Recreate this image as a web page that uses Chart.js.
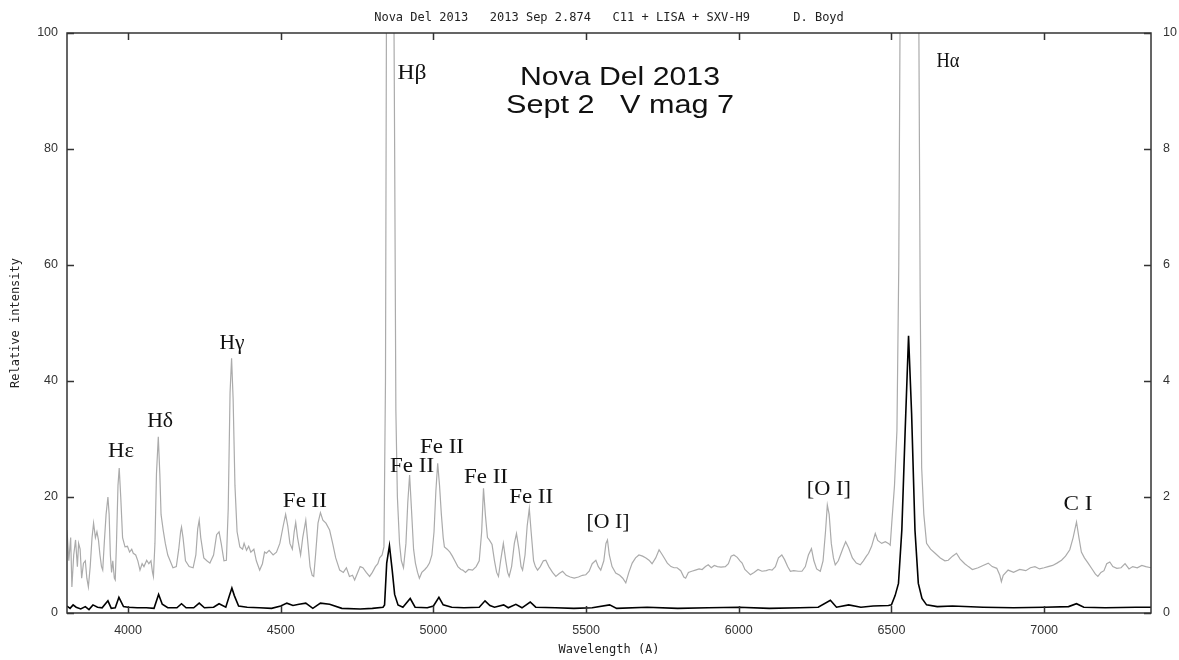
<!DOCTYPE html>
<html>
<head>
<meta charset="utf-8">
<title>Nova Del 2013 spectrum</title>
<script src="https://cdn.jsdelivr.net/npm/chart.js@4.4.1/dist/chart.umd.min.js"></script>
<style>
  html, body { margin: 0; padding: 0; background: #fff; }
  #wrap { width: 1179px; height: 660px; }
</style>
</head>
<body>
<div id="wrap"><canvas id="spec" width="1179" height="660"></canvas></div>
<script>
// spectrum, x10 display (grey, left axis)
const grayWave = [
  3800,3806,3812,3816,3822,3828,3834,3838,3843,3848,3854,3860,3865,3870,3876,3882,3887,3893,3898,3903,
  3908,3913,3917,3922,3928,3934,3938,3942,3946,3950,3955,3958,3962,3967,3971,3976,3982,3990,3998,4005,
  4012,4017,4025,4032,4039,4046,4052,4061,4068,4075,4080,4083,4088,4093,4099,4104,4108,4115,4122,4130,
  4137,4147,4158,4166,4172,4175,4180,4188,4200,4213,4222,4228,4233,4238,4248,4258,4268,4280,4290,4298,
  4305,4314,4322,4328,4334,4339,4344,4350,4357,4366,4375,4380,4388,4395,4402,4412,4420,4431,4440,4447,
  4453,4462,4475,4486,4497,4508,4516,4523,4530,4538,4544,4549,4555,4565,4572,4582,4589,4596,4603,4608,
  4614,4622,4630,4638,4648,4660,4670,4680,4693,4705,4715,4725,4735,4742,4752,4760,4769,4780,4791,4800,
  4810,4818,4824,4832,4838,4843,4846,4851,4856,4862,4868,4873,4877,4882,4889,4895,4902,4910,4916,4922,
  4928,4935,4941,4948,4954,4962,4972,4980,4987,4995,5002,5008,5014,5020,5026,5032,5036,5045,5054,5062,
  5070,5080,5090,5096,5105,5115,5128,5140,5150,5158,5164,5170,5177,5183,5192,5200,5207,5213,5220,5229,
  5237,5243,5248,5256,5265,5272,5280,5287,5292,5300,5307,5314,5320,5328,5334,5341,5350,5360,5368,5378,
  5390,5401,5412,5423,5435,5448,5461,5475,5488,5499,5510,5520,5532,5540,5548,5558,5565,5570,5576,5585,
  5597,5610,5620,5630,5640,5651,5662,5673,5685,5696,5706,5716,5728,5739,5750,5758,5766,5778,5788,5798,
  5810,5820,5826,5835,5846,5858,5870,5880,5891,5900,5910,5920,5930,5942,5956,5966,5975,5984,5995,6004,
  6011,6020,6030,6038,6050,6063,6076,6090,6100,6109,6120,6130,6141,6150,6160,6169,6180,6195,6207,6218,
  6228,6238,6246,6255,6267,6276,6284,6290,6296,6303,6310,6316,6326,6340,6350,6360,6372,6385,6398,6408,
  6418,6425,6435,6447,6455,6468,6480,6490,6496,6501,6510,6518,6524,6528,6535,6545,6556,6566,6576,6588,
  6594,6599,6606,6615,6628,6643,6660,6675,6686,6700,6713,6725,6740,6752,6765,6784,6800,6817,6830,6845,
  6855,6860,6866,6882,6900,6920,6940,6955,6970,6985,7000,7013,7028,7042,7057,7070,7084,7095,7106,7114,
  7122,7132,7144,7158,7168,7176,7186,7196,7205,7215,7225,7238,7252,7265,7278,7290,7305,7320,7333,7350
];
const grayFlux = [
  14.3,9,13,4.5,10,12.6,8,12,11,6,8.6,9,6,4.5,8,13,15.5,13,14,12.6,
  10,8,7.4,12,17,20,17,10,7,9,6,5.7,12,22,25,20,13,11.4,11.5,10.5,
  11,10.3,10,9,7.4,8.5,8,9.1,8.5,9,7,6.3,12,24,30.4,24,17,14.3,12,10,
  9.1,7.8,8,11,14,14.8,13,9,8,7.8,10,14.5,16,13,9.5,9,8.6,10,13.5,14,
  12,9,9.1,18,38,43.9,37,22,14,11.4,11,12,10.8,11.5,10.5,11,9,7.4,8.5,10.5,
  10.3,10.8,10,10.5,12,15,17,15,12,11,14,15.6,13,10,13,16,12,8,6.5,6.3,
  10,15.5,17.3,16,15.5,14.3,12,9.5,7.4,7,7.8,6.3,6.5,5.7,7,8,7.8,7,6.3,7,
  8,8.5,9.5,10,11.4,40,100,220,300,230,130,80,35,20,12,9,7.8,12,19,23.8,
  18,11,8.6,7,6,7,7.5,8,8.6,10,14,21,25.8,22,17,13,11.4,11,10.5,9.8,
  9,8,7.5,7.4,7,7.5,7.4,8,9,14,21.5,17,13,12.6,11.8,9,7,6.3,9,12,
  9,7,6.3,8,12,13.7,11,8,7.4,10,15,18,14,9,8,7.4,8,9,9.1,8,
  7,6.3,6.8,7.2,6.5,6.2,6.0,6.2,6.5,6.6,7.2,8.5,9.1,8,7.4,9,12,12.6,10,8,
  6.9,6.5,6,5.2,7,8.6,9.5,10,9.8,9.5,9.1,8.5,9.5,10.9,10,9.3,8.6,8,7.8,7.8,
  7.3,6.2,6,7,7.2,7.4,7.6,7.5,8,8.3,7.8,8.2,8,7.9,8,8.5,9.8,10,9.6,9,
  8.6,7.5,7,6.6,7,7.5,7.2,7.3,7.5,7.4,8,9.5,10,9.2,8,7.2,7.3,7.2,7.2,8,
  10,11.1,9,7.6,7.2,9,14,18.6,17,12,9.5,8.3,9,11,12.3,11.2,9.5,8.6,8.3,9,
  9.8,10.3,11.5,13.7,12.5,12,12.3,12,11.7,15.5,22,31.5,60,100,200,330,478,340,200,120,
  55,25,17,12,11,10.3,9.5,9,9.1,9.8,10.3,9.3,8.5,8,7.5,7.8,8.2,8.6,8,7.7,
  6.5,5.4,6.5,7.4,7,7.5,7.3,7.8,8,7.6,7.8,8,8.2,8.6,9.1,9.8,10.9,13,15.7,13,
  10.5,9.5,8.6,7.5,6.7,6.3,7,7.3,8.5,8.8,8,7.7,7.8,8.5,7.6,8,7.8,8.2,8,7.8
];

// spectrum as recorded (black, right axis)
const blackWave = [
  3800,3810,3820,3830,3845,3860,3872,3885,3900,3915,3934,3945,3958,3970,3985,4000,4030,4060,4085,4100,
  4112,4130,4160,4175,4190,4215,4233,4250,4280,4298,4320,4332,4340,4348,4362,4390,4430,4470,4500,4520,
  4540,4560,4582,4605,4630,4660,4700,4760,4800,4835,4840,4847,4856,4865,4873,4884,4900,4924,4940,4980,
  5000,5018,5032,5060,5100,5150,5169,5185,5200,5230,5245,5270,5290,5317,5335,5400,5460,5520,5577,5600,
  5700,5800,5900,6000,6100,6200,6260,6300,6320,6360,6400,6440,6490,6500,6512,6523,6534,6545,6556,6566,
  6577,6588,6600,6615,6650,6700,6800,6900,7000,7080,7106,7130,7200,7300,7350
];
const blackFlux = [
  0.12,0.08,0.14,0.10,0.07,0.11,0.06,0.14,0.10,0.09,0.21,0.08,0.09,0.27,0.11,0.10,0.09,0.09,0.08,0.32,
  0.15,0.09,0.09,0.16,0.09,0.09,0.17,0.09,0.10,0.16,0.10,0.30,0.43,0.30,0.12,0.10,0.09,0.08,0.12,0.17,
  0.13,0.15,0.17,0.08,0.17,0.15,0.08,0.07,0.08,0.10,0.14,0.86,1.16,0.74,0.32,0.14,0.10,0.25,0.10,0.09,
  0.12,0.27,0.14,0.10,0.09,0.10,0.21,0.13,0.10,0.14,0.09,0.15,0.09,0.19,0.10,0.09,0.08,0.09,0.14,0.08,
  0.10,0.08,0.09,0.10,0.08,0.09,0.10,0.22,0.10,0.14,0.10,0.12,0.13,0.14,0.30,0.51,1.43,3.16,4.78,3.44,
  1.43,0.51,0.25,0.14,0.11,0.12,0.10,0.09,0.10,0.11,0.16,0.10,0.09,0.10,0.10
];

const xTicks = [4000, 4500, 5000, 5500, 6000, 6500, 7000];
const leftTicks = [0, 20, 40, 60, 80, 100];
const rightTicks = [0, 2, 4, 6, 8, 10];

// line identifications: text, wavelength, left-axis baseline, width
const lineIds = [
  ['H\u03b2', 4930, 92.1, 29],
  ['H\u03b1', 6685, 94.1, 23],
  ['H\u03b3', 4340, 45.5, 25],
  ['H\u03b4', 4105, 32.1, 26],
  ['H\u03b5', 3977, 26.9, 26],
  ['Fe II', 4579, 18.3, 44],
  ['Fe II', 4930, 24.3, 44],
  ['Fe II', 5028, 27.6, 44],
  ['Fe II', 5172, 22.4, 44],
  ['Fe II', 5320, 19.0, 44],
  ['[O I]', 5572, 14.7, 43],
  ['[O I]', 6295, 20.3, 44],
  ['C I', 7111, 17.8, 29]
];
const bigText = [
  ['Nova Del 2013', 5611, 91.0, 200],
  ['Sept 2   V mag 7', 5611, 86.2, 228]
];

const toXY = (w, f) => w.map((v, i) => ({x: v, y: f[i]}));

function fitText(ctx, text, cx, base, font, width) {
  ctx.font = font;
  const m = ctx.measureText(text).width;
  ctx.save();
  ctx.translate(cx, base);
  ctx.scale(width / m, 1);
  ctx.textAlign = 'center';
  ctx.textBaseline = 'alphabetic';
  ctx.fillText(text, 0, 0);
  ctx.restore();
}

const frame = {
  id: 'frame',
  afterDatasetsDraw(chart) {
    const {ctx, chartArea: a, scales: {x, y, y2}} = chart;
    ctx.save();
    ctx.strokeStyle = '#333';
    ctx.lineWidth = 1.5;
    ctx.beginPath();
    xTicks.forEach(t => {
      const px = Math.round(x.getPixelForValue(t)) + 0.5;
      ctx.moveTo(px, a.bottom); ctx.lineTo(px, a.bottom - 7);
      ctx.moveTo(px, a.top); ctx.lineTo(px, a.top + 7);
    });
    leftTicks.forEach(t => {
      const py = Math.round(y.getPixelForValue(t)) + 0.5;
      ctx.moveTo(a.left, py); ctx.lineTo(a.left + 7, py);
    });
    rightTicks.forEach(t => {
      const py = Math.round(y2.getPixelForValue(t)) + 0.5;
      ctx.moveTo(a.right, py); ctx.lineTo(a.right - 7, py);
    });
    ctx.stroke();
    ctx.strokeRect(a.left, a.top, a.right - a.left, a.bottom - a.top);

    ctx.fillStyle = '#111';
    lineIds.forEach(([t, w, v, wd]) => {
      fitText(ctx, t, x.getPixelForValue(w), y.getPixelForValue(v), '20px "Liberation Serif", serif', wd);
    });
    bigText.forEach(([t, w, v, wd]) => {
      fitText(ctx, t, x.getPixelForValue(w), y.getPixelForValue(v), '25px "Liberation Sans", Arial, sans-serif', wd);
    });
    ctx.restore();
  }
};

const mono = {family: '"DejaVu Sans Mono", monospace', size: 12, weight: 'normal'};
const tickFont = {family: '"Liberation Sans", Arial, sans-serif', size: 12.5};

new Chart(document.getElementById('spec'), {
  type: 'line',
  data: {
    datasets: [
      {
        label: 'observed',
        data: toXY(blackWave, blackFlux),
        yAxisID: 'y2',
        borderColor: '#000',
        borderWidth: 1.6,
        pointRadius: 0,
        tension: 0
      },
      {
        label: 'x10',
        data: toXY(grayWave, grayFlux),
        yAxisID: 'y',
        borderColor: '#ababab',
        borderWidth: 1.2,
        pointRadius: 0,
        tension: 0
      }
    ]
  },
  options: {
    responsive: false,
    animation: false,
    devicePixelRatio: 1,
    layout: {padding: 0},
    plugins: {
      legend: {display: false},
      tooltip: {enabled: false},
      title: {
        display: true,
        fullSize: false,
        text: 'Nova Del 2013   2013 Sep 2.874   C11 + LISA + SXV-H9      D. Boyd',
        font: mono,
        color: '#222',
        padding: {top: 11, bottom: 7.6}
      }
    },
    scales: {
      x: {
        type: 'linear',
        min: 3800,
        max: 7350,
        afterBuildTicks: s => { s.ticks = xTicks.map(v => ({value: v})); },
        ticks: {font: tickFont, color: '#333', padding: 10, maxRotation: 0, callback: v => String(v)},
        grid: {drawOnChartArea: false, drawTicks: false},
        border: {display: false},
        title: {display: true, text: 'Wavelength (A)', font: mono, color: '#222', padding: {top: 0, bottom: 3}},
        afterFit: s => { s.height = 47; }
      },
      y: {
        position: 'left',
        min: 0,
        max: 100,
        afterBuildTicks: s => { s.ticks = leftTicks.map(v => ({value: v})); },
        ticks: {font: tickFont, color: '#333', padding: 9, callback: v => String(v)},
        grid: {drawOnChartArea: false, drawTicks: false},
        border: {display: false},
        title: {display: true, text: 'Relative intensity', font: mono, color: '#222', padding: {top: 9, bottom: 0}},
        afterFit: s => { s.width = 67; }
      },
      y2: {
        position: 'right',
        min: 0,
        max: 10,
        afterBuildTicks: s => { s.ticks = rightTicks.map(v => ({value: v})); },
        ticks: {font: tickFont, color: '#333', padding: 12, callback: v => String(v)},
        grid: {drawOnChartArea: false, drawTicks: false},
        border: {display: false},
        afterFit: s => { s.width = 28; }
      }
    }
  },
  plugins: [frame]
});
</script>
</body>
</html>
